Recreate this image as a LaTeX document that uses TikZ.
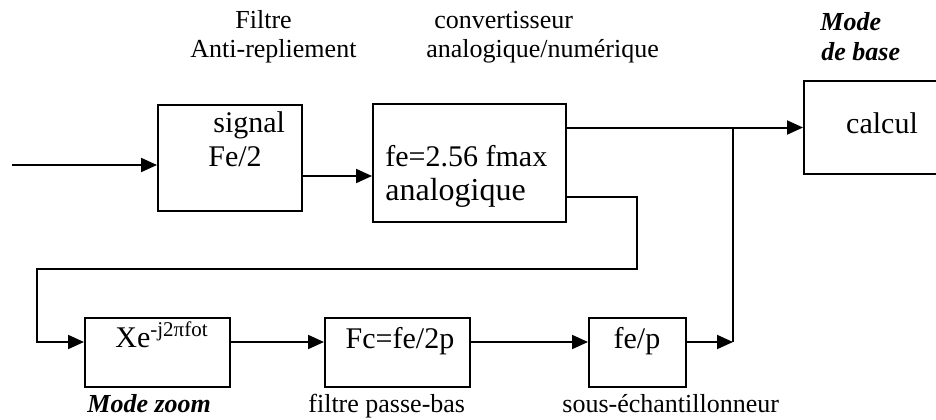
\documentclass[tikz,border=0pt]{standalone}
\usepackage{fontspec}
\setmainfont{Liberation Serif}
\usetikzlibrary{arrows.meta,positioning}
\tikzset{
  blk/.style={draw, line width=1pt, inner sep=0pt, anchor=north west},
  sarr/.style={-{Triangle[length=8pt,width=7pt]}, line width=1pt},
  wire/.style={line width=1pt},
  lbl/.style={font=\fontsize{13}{15}\selectfont, inner sep=0pt},
  mlbl/.style={font=\fontsize{13}{15}\selectfont\bfseries\itshape, inner sep=0pt},
  btxt/.style={font=\fontsize{15}{18}\selectfont, inner sep=0pt},
}
\begin{document}
\begin{tikzpicture}[x=0.5pt, y=-0.5pt]
  \useasboundingbox (0,0) rectangle (936,419);
  \clip (0,0) rectangle (936,419);
  % blocks
  \node[blk, minimum width=72pt, minimum height=53pt] (filt) at (157,104) {};
  \node[blk, minimum width=96.5pt, minimum height=59pt] (conv) at (372,103) {};
  \node[blk, minimum width=79pt, minimum height=46.5pt] (calc) at (803,80) {};
  \node[blk, minimum width=72.5pt, minimum height=34.5pt] (mix) at (84,317) {};
  \node[blk, minimum width=72.5pt, minimum height=34.5pt] (lpf) at (324,317) {};
  \node[blk, minimum width=48.5pt, minimum height=34.5pt] (dec) at (588,317) {};
  % texts in blocks
  \node[btxt, anchor=base west] (sig) at (213,132) {signal};
  \node[btxt, anchor=base west] (fe2) at (208,166) {Fe/2};
  \node[btxt, anchor=base west] (fmax) at (385,166) {fe=2.56 fmax};
  \node[btxt, anchor=base west, font=\fontsize{16}{18}\selectfont] (ana) at (385,200) {analogique};
  \node[btxt, anchor=base] (calctxt) at (882,133) {calcul};
  \node[btxt, anchor=base west] (xe) at (115,347) {Xe\textsuperscript{-j2πfot}};
  \node[btxt, anchor=base] (fc) at (400,348) {Fc=fe/2p};
  \node[btxt, anchor=base] (fep) at (637,348) {fe/p};
  % captions
  \node[lbl, anchor=base west] (cap1) at (235,28) {Filtre};
  \node[lbl, anchor=base west] (cap2) at (190,57) {Anti-repliement};
  \node[lbl, anchor=base west] (cap3) at (434,28) {convertisseur};
  \node[lbl, anchor=base west] (cap4) at (426,57) {analogique/numérique};
  \node[mlbl, anchor=base west] (mode1) at (820,30) {Mode};
  \node[mlbl, anchor=base west] (mode2) at (821,60) {de base};
  \node[mlbl, anchor=base west] (zoom) at (87,412) {Mode zoom};
  \node[lbl, anchor=base west] (cap5) at (308,412) {filtre passe-bas};
  \node[lbl, anchor=base west] (cap6) at (562,412) {sous-échantillonneur};
  % connections
  \coordinate (in) at (12,165);
  \coordinate (o1) at (0,176);
  \coordinate (o2) at (0,197);
  \coordinate (b1) at (637,269);
  \coordinate (b2) at (37,269);
  \coordinate (row) at (0,342);
  \coordinate (jn) at (733,342);
  \draw[sarr] (in) -- (in -| filt.west);
  \draw[sarr] (filt.east |- o1) -- (conv.west |- o1);
  \draw[sarr] (conv.east |- calc.west) -- (calc.west);
  \draw[sarr] (conv.east |- o2) -| (b1) -- (b2) |- (mix.west |- row);
  \draw[sarr] (mix.east |- row) -- (lpf.west |- row);
  \draw[sarr] (lpf.east |- row) -- (dec.west |- row);
  \draw[sarr] (dec.east |- row) -- (jn);
  \draw[wire] (jn) -- (jn |- calc.west);
\end{tikzpicture}
\end{document}
